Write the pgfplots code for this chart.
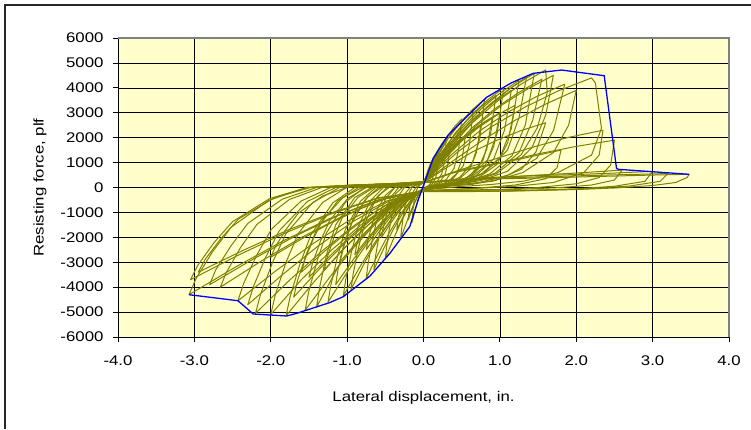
\documentclass[border=0pt]{standalone}
\usepackage{pgfplots}
\pgfplotsset{compat=1.18}
\usepackage{fontspec}
\setmainfont{Liberation Sans}[FakeStretch=1.2]
\definecolor{bgyellow}{RGB}{255,255,204}
\definecolor{hyst}{RGB}{128,128,0}
\definecolor{envblue}{RGB}{0,0,255}
\begin{document}
\begin{tikzpicture}[x=1pt,y=1pt]
\useasboundingbox (0,0) rectangle (751,429);
\draw[line width=1.5pt, black!85] (5,0) -- (5,424) -- (751,424);
\begin{axis}[
  at={(118pt,92pt)}, anchor=south west, scale only axis,
  width=611pt, height=299pt,
  xmin=-4, xmax=4, ymin=-6000, ymax=6000,
  xtick={-4,-3,-2,-1,0,1,2,3,4},
  xticklabels={-4.0,-3.0,-2.0,-1.0,0.0,1.0,2.0,3.0,4.0},
  ytick={-6000,-5000,-4000,-3000,-2000,-1000,0,1000,2000,3000,4000,5000,6000},
  yticklabels={-6000,-5000,-4000,-3000,-2000,-1000,0,1000,2000,3000,4000,5000,6000},
  scaled ticks=false,
  axis x line*=bottom, axis y line*=left,
  axis line style={-, black, line width=0.8pt},
  tick style={black, line width=0.8pt},
  tick align=outside, major tick length=5pt,
  grid=major, major grid style={black, line width=0.6pt},
  axis background/.style={fill=bgyellow},
  tick label style={font=\fontsize{14}{16}\selectfont},
  xticklabel style={yshift=-10pt},
  yticklabel style={xshift=-6pt},
  label style={font=\fontsize{14}{16}\selectfont},
  xlabel={Lateral displacement, in.},
  ylabel={Resisting force, plf},
  xlabel style={at={(axis description cs:0.5,-0.205)}, anchor=center},
  ylabel style={at={(axis description cs:-0.1277,0.5)}, anchor=center},
  clip=false,
  hy/.style={color=hyst, line width=1pt, no marks, line join=round},
]
\draw[gray, line width=1.2pt] (rel axis cs:0,1) -- (rel axis cs:1,1) -- (rel axis cs:1,0);
% hysteresis cycles
\addplot[hy] coordinates {(0,0) (0.03,416) (0.06,715) (0.09,949) (0.12,1144) (0.15,1300) (0.138,715) (0.12,364) (0.09,156) (0.06,65) (0.03,26) (0,-100)
(-0.03,-168) (-0.06,-406) (-0.09,-700) (-0.12,-1036) (-0.15,-1400) (-0.146,-1190) (-0.135,-840) (-0.123,-518) (-0.099,-168) (-0.075,0) (-0.045,100) (0,200)};
\addplot[hy] coordinates {(0,200) (0.06,640) (0.12,1100) (0.18,1460) (0.24,1760) (0.3,2000) (0.276,1100) (0.24,560) (0.18,240) (0.12,100) (0.06,40) (0,-100)
(-0.06,-252) (-0.12,-609) (-0.18,-1050) (-0.24,-1554) (-0.3,-2050) (-0.291,-1785) (-0.27,-1260) (-0.246,-777) (-0.198,-252) (-0.15,0) (-0.09,100) (0,200)};
\addplot[hy] coordinates {(0,200) (0.04,448) (0.08,770) (0.12,1022) (0.16,1232) (0.2,1400) (0.184,770) (0.16,392) (0.12,168) (0.08,70) (0.04,28) (0,-100)
(-0.04,-156) (-0.08,-377) (-0.12,-650) (-0.16,-962) (-0.2,-1300) (-0.194,-1105) (-0.18,-780) (-0.164,-481) (-0.132,-156) (-0.1,0) (-0.06,100) (0,200)};
\addplot[hy] coordinates {(0,200) (0.1,880) (0.2,1513) (0.3,2008) (0.4,2420) (0.5,2750) (0.46,1513) (0.4,770) (0.3,330) (0.2,138) (0.1,55) (0,-100)
(-0.1,-342) (-0.2,-827) (-0.3,-1425) (-0.4,-2109) (-0.5,-2850) (-0.485,-2423) (-0.45,-1710) (-0.41,-1055) (-0.33,-342) (-0.25,0) (-0.15,100) (0,200)};
\addplot[hy] coordinates {(0,200) (0.07,576) (0.14,990) (0.21,1314) (0.28,1584) (0.35,1800) (0.322,990) (0.28,504) (0.21,216) (0.14,90) (0.07,36) (0,-100)
(-0.07,-204) (-0.14,-493) (-0.21,-850) (-0.28,-1258) (-0.35,-1700) (-0.34,-1445) (-0.315,-1020) (-0.287,-629) (-0.231,-204) (-0.175,0) (-0.105,100) (0,200)};
\addplot[hy] coordinates {(0,200) (0.13,1000) (0.26,1720) (0.39,2280) (0.52,2740) (0.65,3100) (0.6,1700) (0.52,870) (0.39,370) (0.26,155) (0.13,62) (0,-90)
(-0.13,-400) (-0.26,-960) (-0.39,-1650) (-0.52,-2440) (-0.65,-3300) (-0.63,-2800) (-0.585,-1980) (-0.53,-1220) (-0.43,-400) (-0.325,0) (-0.2,100) (0,200)};
\addplot[hy] coordinates {(0,200) (0.16,1136) (0.32,1953) (0.48,2592) (0.64,3124) (0.8,3550) (0.736,1953) (0.64,994) (0.48,426) (0.32,178) (0.16,71) (0,-100)
(-0.15,-438) (-0.3,-1059) (-0.45,-1825) (-0.6,-2701) (-0.75,-3650) (-0.728,-3103) (-0.675,-2190) (-0.615,-1351) (-0.495,-438) (-0.375,0) (-0.225,100) (0,200)};
\addplot[hy] coordinates {(0,200) (0.11,672) (0.22,1155) (0.33,1533) (0.44,1848) (0.55,2100) (0.506,1155) (0.44,588) (0.33,252) (0.22,105) (0.11,42) (0,-100)
(-0.11,-240) (-0.22,-580) (-0.33,-1000) (-0.44,-1480) (-0.55,-2000) (-0.534,-1700) (-0.495,-1200) (-0.451,-740) (-0.363,-240) (-0.275,0) (-0.165,100) (0,200)};
\addplot[hy] coordinates {(0,200) (0.21,1280) (0.42,2200) (0.63,2920) (0.84,3520) (1.05,4000) (0.966,2200) (0.84,1120) (0.63,480) (0.42,200) (0.21,80) (0,-100)
(-0.21,-522) (-0.42,-1262) (-0.63,-2175) (-0.84,-3219) (-1.05,-4350) (-1.019,-3698) (-0.945,-2610) (-0.861,-1610) (-0.693,-522) (-0.525,0) (-0.315,100) (0,200)};
\addplot[hy] coordinates {(0,200) (0.19,1150) (0.38,2000) (0.57,2700) (0.76,3250) (0.95,3700) (0.88,2200) (0.78,1100) (0.6,450) (0.4,180) (0.2,70) (0,-80)
(-0.19,-450) (-0.38,-1100) (-0.57,-1950) (-0.76,-2950) (-0.95,-4100) (-0.92,-3450) (-0.85,-2400) (-0.77,-1450) (-0.62,-450) (-0.47,30) (-0.28,120) (0,220)};
\addplot[hy] coordinates {(0,200) (0.15,800) (0.3,1375) (0.45,1825) (0.6,2200) (0.75,2500) (0.69,1375) (0.6,700) (0.45,300) (0.3,125) (0.15,50) (0,-100)
(-0.15,-300) (-0.3,-725) (-0.45,-1250) (-0.6,-1850) (-0.75,-2500) (-0.728,-2125) (-0.675,-1500) (-0.615,-925) (-0.495,-300) (-0.375,0) (-0.225,100) (0,200)};
\addplot[hy] coordinates {(0,200) (0.23,1250) (0.46,2150) (0.69,2850) (0.92,3420) (1.15,3900) (1.06,2300) (0.92,1150) (0.69,480) (0.46,200) (0.23,80) (0,-80)
(-0.23,-470) (-0.46,-1130) (-0.69,-1950) (-0.92,-2890) (-1.15,-3900) (-1.12,-3300) (-1.04,-2330) (-0.94,-1440) (-0.76,-470) (-0.58,20) (-0.35,110) (0,210)};
\addplot[hy] coordinates {(0,200) (0.25,1376) (0.5,2365) (0.75,3139) (1.0,3784) (1.25,4300) (1.15,2365) (1.0,1204) (0.75,516) (0.5,215) (0.25,86) (0,-100)
(-0.25,-552) (-0.5,-1334) (-0.75,-2300) (-1.0,-3404) (-1.25,-4600) (-1.213,-3910) (-1.125,-2760) (-1.025,-1702) (-0.825,-552) (-0.625,0) (-0.375,100) (0,200)};
\addplot[hy] coordinates {(0,200) (0.18,896) (0.36,1540) (0.54,2044) (0.72,2464) (0.9,2800) (0.828,1540) (0.72,784) (0.54,336) (0.36,140) (0.18,56) (0,-100)
(-0.18,-324) (-0.36,-783) (-0.54,-1350) (-0.72,-1998) (-0.9,-2700) (-0.873,-2295) (-0.81,-1620) (-0.738,-999) (-0.594,-324) (-0.45,0) (-0.27,100) (0,200)};
\addplot[hy] coordinates {(0,250) (0.27,1300) (0.54,2300) (0.81,3150) (1.08,3850) (1.35,4450) (1.25,2800) (1.1,1500) (0.8,600) (0.5,250) (0.25,100) (0,-50)
(-0.28,-450) (-0.56,-1150) (-0.84,-2050) (-1.12,-3200) (-1.4,-4800) (-1.36,-4000) (-1.27,-2700) (-1.15,-1500) (-0.9,-400) (-0.65,50) (-0.35,150) (0,250)};
\addplot[hy] coordinates {(0,200) (0.29,1466) (0.58,2519) (0.87,3343) (1.16,4030) (1.45,4580) (1.334,2519) (1.16,1282) (0.87,550) (0.58,229) (0.29,92) (0,-100)
(-0.31,-592) (-0.62,-1430) (-0.93,-2465) (-1.24,-3648) (-1.55,-4930) (-1.504,-4191) (-1.395,-2958) (-1.271,-1824) (-1.023,-592) (-0.775,0) (-0.465,100) (0,200)};
\addplot[hy] coordinates {(0,200) (0.2,960) (0.4,1650) (0.6,2190) (0.8,2640) (1.0,3000) (0.92,1650) (0.8,840) (0.6,360) (0.4,150) (0.2,60) (0,-100)
(-0.22,-360) (-0.44,-870) (-0.66,-1500) (-0.88,-2220) (-1.1,-3000) (-1.067,-2550) (-0.99,-1800) (-0.902,-1110) (-0.726,-360) (-0.55,0) (-0.33,100) (0,200)};
\addplot[hy] coordinates {(0,200) (0.31,1300) (0.62,2350) (0.93,3150) (1.24,3800) (1.55,4350) (1.43,2700) (1.25,1400) (0.94,580) (0.62,240) (0.31,95) (0,-90)
(-0.34,-530) (-0.68,-1280) (-1.02,-2200) (-1.36,-3260) (-1.7,-4400) (-1.65,-3740) (-1.53,-2640) (-1.39,-1630) (-1.12,-530) (-0.85,0) (-0.51,100) (0,200)};
\addplot[hy] coordinates {(0,200) (0.32,1510) (0.64,2596) (0.96,3446) (1.28,4154) (1.6,4720) (1.62,3800) (1.49,2400) (1.28,1320) (0.96,566) (0.64,236) (0.32,94) (0,-100)
(-0.36,-618) (-0.72,-1494) (-1.08,-2575) (-1.44,-3811) (-1.8,-5150) (-1.746,-4378) (-1.62,-3090) (-1.476,-1906) (-1.188,-618) (-0.9,0) (-0.54,100) (0,200)};
\addplot[hy] coordinates {(0,200) (0.24,1056) (0.48,1815) (0.72,2409) (0.96,2904) (1.2,3300) (1.104,1815) (0.96,924) (0.72,396) (0.48,165) (0.24,66) (0,-100)
(-0.26,-396) (-0.52,-957) (-0.78,-1650) (-1.04,-2442) (-1.3,-3300) (-1.261,-2805) (-1.17,-1980) (-1.066,-1221) (-0.858,-396) (-0.65,0) (-0.39,100) (0,200)};
\addplot[hy] coordinates {(0,200) (0.34,1350) (0.68,2450) (1.02,3300) (1.36,3950) (1.7,4500) (1.6,2900) (1.42,1600) (1.1,650) (0.75,280) (0.38,110) (0,-80)
(-0.4,-600) (-0.8,-1450) (-1.2,-2500) (-1.6,-3700) (-2.0,-5100) (-1.94,-4300) (-1.8,-3000) (-1.64,-1850) (-1.32,-600) (-1.0,20) (-0.6,130) (0,230)};
\addplot[hy] coordinates {(0,200) (0.37,1328) (0.74,2283) (1.11,3030) (1.48,3652) (1.85,4150) (1.702,2283) (1.48,1162) (1.11,498) (0.74,208) (0.37,83) (0,-100)
(-0.3,-432) (-0.6,-1044) (-0.9,-1800) (-1.2,-2664) (-1.5,-3600) (-1.455,-3060) (-1.35,-2160) (-1.23,-1332) (-0.99,-432) (-0.75,0) (-0.45,100) (0,200)};
\addplot[hy] coordinates {(0,200) (0.44,1408) (0.88,2420) (1.32,3212) (1.76,3872) (2.2,4400) (2.25,4200) (2.33,2375) (2.2,1300) (1.76,600) (1.32,260) (0.88,120) (0.44,30) (0,-100)
(-0.44,-606) (-0.88,-1465) (-1.32,-2525) (-1.76,-3737) (-2.2,-5050) (-2.134,-4293) (-1.98,-3030) (-1.804,-1869) (-1.452,-606) (-1.1,0) (-0.66,100) (0,200)};
\addplot[hy] coordinates {(0,200) (0.4,1100) (0.8,1950) (1.2,2700) (1.6,3350) (2.0,3900) (1.9,2500) (1.7,1400) (1.3,600) (0.9,250) (0.45,100) (0,-80)
(-0.46,-560) (-0.92,-1360) (-1.38,-2350) (-1.84,-3480) (-2.3,-4700) (-2.23,-4000) (-2.07,-2820) (-1.89,-1740) (-1.52,-560) (-1.15,0) (-0.69,100) (0,200)};
\addplot[hy] coordinates {(0,200) (0.32,832) (0.64,1430) (0.96,1898) (1.28,2288) (1.6,2600) (1.472,1430) (1.28,728) (0.96,312) (0.64,130) (0.32,52) (0,-100)
(-0.32,-408) (-0.64,-986) (-0.96,-1700) (-1.28,-2516) (-1.6,-3400) (-1.552,-2890) (-1.44,-2040) (-1.312,-1258) (-1.056,-408) (-0.8,0) (-0.48,100) (0,200)};
\addplot[hy] coordinates {(0,200) (0.5,700) (1.0,1000) (1.5,1350) (2.0,1650) (2.5,1900) (2.45,900) (2.3,400) (2.0,150) (1.5,0) (1.0,-80) (0.5,-100) (0,-150)
(-0.486,-546) (-0.972,-1320) (-1.458,-2275) (-1.944,-3367) (-2.43,-4550) (-2.357,-3868) (-2.187,-2730) (-1.993,-1684) (-1.604,-546) (-1.215,0) (-0.729,100) (0,200)};
\addplot[hy] coordinates {(0,200) (0.47,700) (0.94,1150) (1.41,1600) (1.88,2000) (2.35,2300) (2.3,1300) (2.1,600) (1.7,200) (1.2,50) (0.6,-50) (0,-120)
(-0.56,-470) (-1.12,-1130) (-1.68,-1950) (-2.24,-2890) (-2.8,-3900) (-2.72,-3300) (-2.52,-2340) (-2.3,-1440) (-1.85,-470) (-1.4,0) (-0.84,100) (0,200)};
\addplot[hy] coordinates {(0,200) (0.4,600) (0.8,850) (1.2,1100) (1.5,1300) (1.8,1500) (1.75,800) (1.6,350) (1.2,100) (0.8,0) (0.4,-80) (0,-150)
(-0.532,-480) (-1.064,-1160) (-1.596,-2000) (-2.128,-2960) (-2.66,-4000) (-2.58,-3400) (-2.394,-2400) (-2.181,-1480) (-1.756,-480) (-1.33,0) (-0.798,100) (0,200)};
\addplot[hy] coordinates {(0,200) (0.5,300) (1.0,400) (1.5,500) (2.0,580) (2.6,700) (2.5,300) (2.2,100) (1.8,0) (1.2,-80) (0.6,-120) (0,-150)
(-0.4,-336) (-0.8,-812) (-1.2,-1400) (-1.6,-2072) (-2.0,-2800) (-1.94,-2380) (-1.8,-1680) (-1.64,-1036) (-1.32,-336) (-1.0,0) (-0.6,100) (0,200)};
\addplot[hy] coordinates {(0,200) (0.5,350) (1.0,420) (1.5,480) (2.0,520) (2.5,580) (3.0,650) (2.9,250) (2.5,50) (2.0,-50) (1.5,-100) (1.0,-150) (0.5,-150) (0,-150)
(-0.614,-516) (-1.228,-1247) (-1.842,-2150) (-2.456,-3182) (-3.07,-4300) (-2.978,-3655) (-2.763,-2580) (-2.517,-1591) (-2.026,-516) (-1.535,0) (-0.921,100) (0,200)};
\addplot[hy] coordinates {(0,200) (0.6,330) (1.2,400) (1.8,450) (2.4,500) (3.2,560) (3.1,250) (2.7,60) (2.1,-60) (1.4,-120) (0.7,-160) (0,-170)
(-0.59,-410) (-1.18,-990) (-1.77,-1700) (-2.36,-2520) (-2.95,-3400) (-2.86,-2890) (-2.65,-2040) (-2.42,-1260) (-1.95,-410) (-1.48,0) (-0.89,100) (0,180)};
\addplot[hy] coordinates {(0,200) (0.5,300) (1.0,350) (1.5,380) (2.0,420) (2.5,460) (3.0,500) (3.48,530) (3.45,400) (3.3,200) (3.0,80) (2.5,-20) (2.0,-80) (1.5,-120) (1.0,-150) (0.5,-150) (0,-150)
(-0.61,-444) (-1.22,-1073) (-1.83,-1850) (-2.44,-2738) (-3.05,-3700) (-2.96,-3145) (-2.745,-2220) (-2.5,-1369) (-2.013,-444) (-1.525,0) (-0.915,100) (0,200)};
% envelope
\addplot[envblue, line width=1.3pt, no marks] coordinates {(-3.071,-4302) (-2.43,-4543) (-2.23,-5076) (-1.79,-5157) (-1.66,-5050) (-1.23,-4622) (-1.05,-4381) (-0.70,-3551) (-0.44,-2641) (-0.18,-1573) (-0.07,-500) (0.128,1172) (0.323,2107) (0.826,3620) (1.15,4200) (1.436,4582) (1.807,4715) (2.366,4487) (2.527,770) (2.55,730) (3.474,530)};
\end{axis}
\end{tikzpicture}
\end{document}
